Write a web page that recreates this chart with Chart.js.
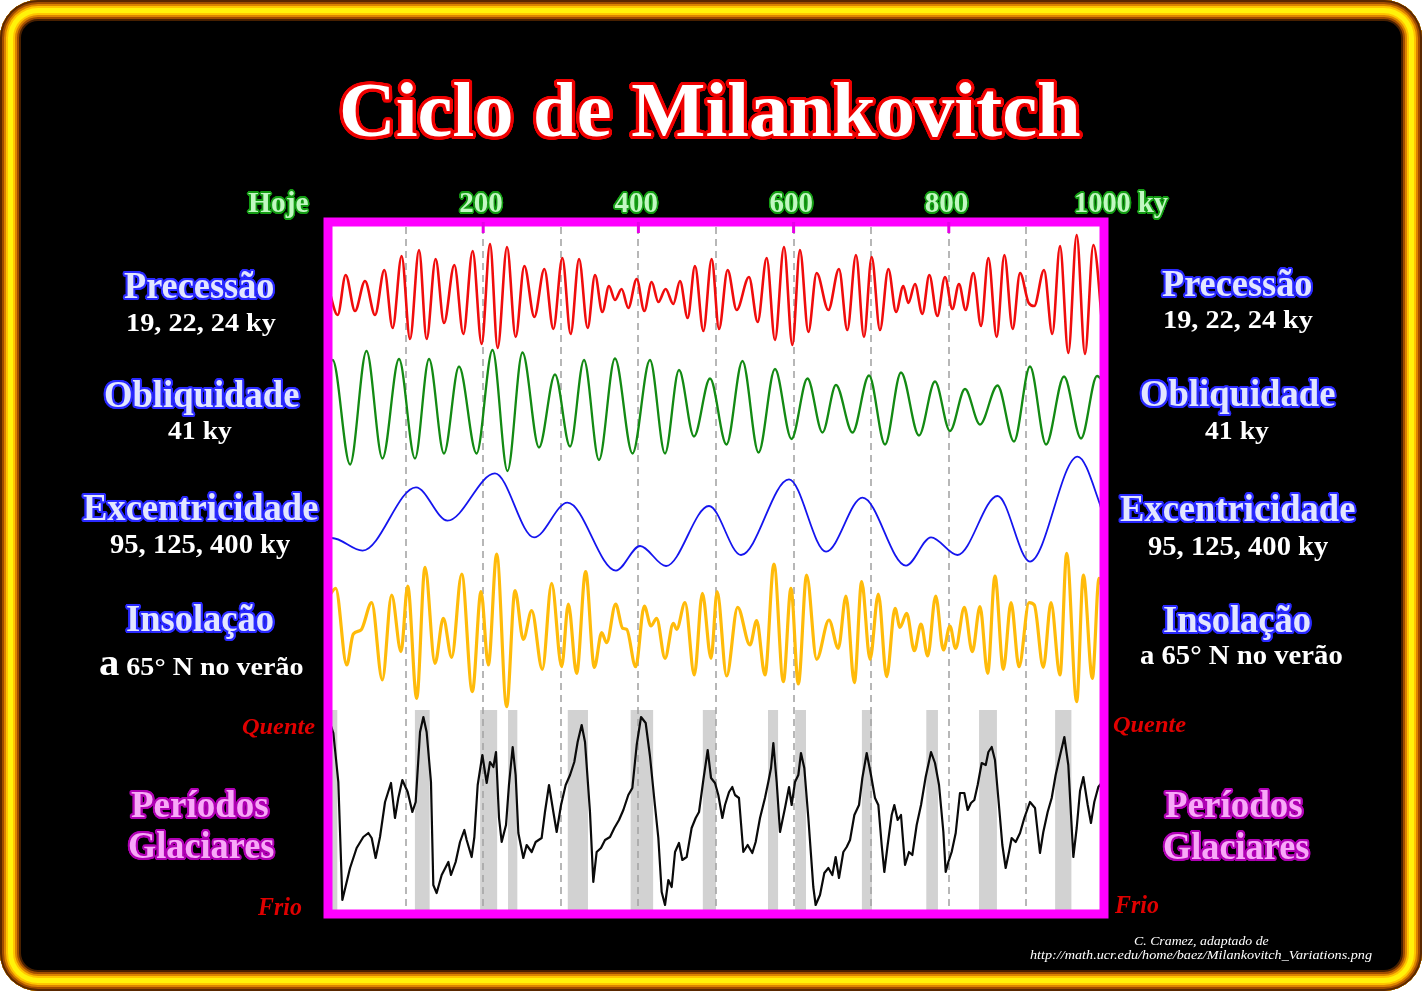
<!DOCTYPE html>
<html lang="pt">
<head>
<meta charset="utf-8">
<title>Ciclo de Milankovitch</title>
<script src="https://cdn.jsdelivr.net/npm/chart.js@4.4.1/dist/chart.umd.min.js"></script>
<style>
  html, body { margin: 0; padding: 0; background: #fff; }
  #frame {
    position: absolute; left: 0; top: 0; width: 1422px; height: 991px;
    border-radius: 38px; background: #000; overflow: hidden;
    box-shadow:
      inset 0 0 0 2px #5a2800,
      inset 0 0 0 4px #a04c00,
      inset 0 0 0 6px #dc8400,
      inset 0 0 0 8px #ffc400,
      inset 0 0 0 13px #fff20a,
      inset 0 0 0 15px #ffc400,
      inset 0 0 0 17px #dc8400,
      inset 0 0 0 19px #a04c00,
      inset 0 0 0 21px #482000;
  }
  #chart { position: absolute; left: 0; top: 0; }
  .lbl {
    position: absolute; white-space: nowrap; line-height: 1;
    font-family: "Liberation Serif", "Times New Roman", serif; font-weight: bold;
    transform-origin: 0 0;
  }
  .big { font-size: 1.45em; line-height: 0; }
</style>
</head>
<body>
<div id="frame">
  <canvas id="chart" width="1422" height="991"></canvas>
</div>
<script>
// ---- series (time in ky before present, value) ----
const precession = [
  [0,0.010],[12.5,-0.019],[22.8,0.021],[34.8,-0.015],[47.7,0.015],[60.6,-0.019],[72.6,0.026],[83.3,-0.032],
  [94.9,0.040],[105.7,-0.043],[117.3,0.046],[127.1,-0.043],[138.7,0.037],[149.5,-0.027],[162.8,0.031],[174.4,-0.038],
  [186.4,0.045],[198.0,-0.048],[208.8,0.052],[218.6,-0.052],[230.7,0.049],[241.8,-0.041],[253.0,0.030],[265.9,-0.021],
  [278.8,0.027],[290.4,-0.033],[302.0,0.038],[312.7,-0.038],[323.5,0.037],[334.6,-0.032],[344.1,0.021],[353.5,-0.016],
  [362.1,0.010],[369.8,-0.004],[378.4,0.007],[387.0,-0.012],[397.8,0.017],[407.6,-0.015],[417.1,0.014],[425.7,-0.006],
  [435.1,0.007],[445.0,-0.008],[453.6,0.015],[463.5,-0.022],[472.9,0.030],[483.7,-0.035],[494.4,0.037],[503.9,-0.033],
  [515.0,0.026],[526.6,-0.014],[542.5,0.019],[553.7,-0.026],[565.3,0.038],[576.0,-0.044],[587.6,0.049],[598.4,-0.049],
  [608.2,0.046],[619.0,-0.036],[629.7,0.023],[644.8,-0.014],[658.5,0.027],[669.2,-0.034],[680.4,0.041],[690.7,-0.041],
  [700.6,0.039],[711.3,-0.034],[722.1,0.027],[732.0,-0.016],[741.4,0.010],[747.9,-0.007],[756.4,0.012],[765.9,-0.018],
  [774.9,0.021],[785.2,-0.020],[795.1,0.019],[804.6,-0.013],[813.1,0.012],[821.7,-0.014],[831.6,0.023],[841.5,-0.030],
  [851.0,0.038],[861.7,-0.041],[871.6,0.041],[882.3,-0.033],[891.8,0.023],[903.0,-0.007],[910.0,-0.010],[922.7,0.026],
  [933.4,-0.038],[943.3,0.050],[954.0,-0.057],[964.8,0.061],[975.5,-0.058],[986.3,0.051],[1000,-0.050]
];

const obliquity = [
  [0,24.22],[6,24.30],[28.4,22.21],[49.6,24.48],[70.2,22.33],[91.5,24.32],[112.1,22.33],[130.2,24.32],
  [149.5,22.43],[168.8,24.17],[191.4,22.43],[212.0,24.50],[231.3,22.08],[250.6,24.45],[271.9,22.55],[292.5,24.01],
  [311.9,22.57],[329.9,24.30],[349.2,22.30],[369.8,24.33],[392.4,22.43],[414.9,24.30],[434.3,22.43],[452.3,24.10],
  [471.6,22.77],[492.3,23.93],[513.5,22.61],[534.1,24.28],[554.8,22.45],[576.0,24.12],[597.3,22.72],[617.9,23.93],
  [637.2,22.85],[654.6,23.80],[675.9,22.85],[697.2,23.99],[717.8,22.61],[738.4,24.05],[761.6,22.79],[782.2,23.87],
  [801.5,22.88],[820.9,23.72],[840.2,23.01],[862.8,23.79],[884.0,22.67],[904.6,24.17],[925.3,22.61],[948.5,23.97],
  [970.4,22.73],[991.0,23.98],[1000,23.85]
];

const eccentricity = [
  [0,0.0182],[5,0.0185],[44.5,0.0122],[113.4,0.0438],[154.0,0.0272],[215.2,0.0508],[265.5,0.0188],[308.6,0.0362],
  [371.1,0.0022],[402.1,0.0145],[435.6,0.0045],[491.0,0.0345],[532.2,0.0100],[594.1,0.0478],[641.8,0.0117],
  [688.8,0.0387],[744.8,0.0047],[777.1,0.0188],[811.2,0.0100],[862.8,0.0395],[904.6,0.0067],[965.9,0.0592],
  [993.6,0.0367],[1000,0.0280]
];

const insolation = [
  [0,512],[9.9,521.7],[24.1,445],[32.6,476],[42.5,480],[56.3,507.3],[70.0,430],[82.0,515],[94.1,458.3],[102.7,524],
  [114.3,411.7],[125.0,542.7],[137.9,446.7],[148.6,491.7],[159.4,452.7],[172.3,536],[186.0,418.3],[197.2,518.3],
  [206.6,445],[217.4,556],[230.2,403.3],[241.0,519.3],[251.7,470.7],[262.5,499.3],[276.2,440.7],[288.2,526.7],
  [301.1,443.3],[309.7,506],[320.4,436.7],[332.0,538.3],[343.2,442.7],[352.7,477.3],[359.1,467.3],[370.7,506],
  [379.7,481.7],[384.9,480.7],[396.5,443.3],[407.6,504],[416.2,484],[423.5,491.7],[434.3,451.7],[445.0,486.7],
  [449.3,480.7],[460.1,507.3],[472.1,435],[482.4,516.7],[493.6,451.7],[501.5,518.3],[513.7,434],[527.9,502.7],
  [543.8,465],[552.4,489.3],[563.1,435],[574.7,546],[586.8,428.3],[596.6,521.7],[606.1,426],[616.8,535],
  [629.7,450.7],[645.6,490],[657.6,461.7],[667.5,514],[678.3,427.3],[687.7,528.3],[698.5,450.7],[709.2,516],
  [719.9,433.3],[730.7,501.7],[737.1,482.7],[745.7,496.7],[755.6,459.3],[764.2,486],[772.8,454],[783.1,514],
  [793.0,460],[801.5,484],[808.8,461.7],[820.0,502.7],[830.3,458.3],[840.2,503.3],[850.1,436.7],[859.5,534],
  [870.3,440.7],[880.2,507.3],[890.5,443.3],[903.4,507.3],[910.2,505],[921.8,442.7],[931.7,507.3],[943.3,435],
  [951.9,556.7],[964.8,408.3],[973.4,535],[985.0,431.7],[993.6,531.7],[1000,515]
];

// benthic delta-18O (per mil); plotted with warm (low values) at the top
const iceVolume = [
  [0,3.25],[6.9,3.41],[13.3,3.90],[18.5,5.08],[28.4,4.76],[36.9,4.56],[45.5,4.45],[52.0,4.41],[56.3,4.46],
  [61.4,4.66],[67.0,4.45],[73.5,4.10],[81.2,3.91],[86.3,4.26],[90.6,4.06],[95.8,3.88],[102.7,4.00],[108.7,4.20],
  [113.0,4.10],[118.6,3.40],[122.9,3.25],[127.1,3.40],[132.7,3.90],[135.7,4.93],[140.0,5.01],[146.5,4.83],
  [155.1,4.70],[158.5,4.83],[164.5,4.70],[170.1,4.50],[175.7,4.38],[178.7,4.48],[185.1,4.65],[188.6,4.45],
  [192.9,3.93],[198.9,3.63],[204.5,3.91],[208.8,3.70],[213.1,3.75],[216.5,3.60],[220.4,4.26],[223.8,4.50],
  [229.4,4.33],[233.2,3.93],[238.0,3.55],[241.8,3.83],[245.3,4.41],[251.7,4.66],[256.0,4.53],[262.5,4.60],
  [267.6,4.50],[275.3,4.46],[279.6,4.20],[284.8,3.93],[290.4,4.20],[294.7,4.40],[300.3,4.13],[306.3,3.93],
  [311.9,3.83],[317.4,3.70],[321.7,3.50],[326.9,3.33],[331.2,3.50],[337.6,4.20],[341.9,4.90],[346.2,4.60],
  [351.8,4.56],[357.0,4.48],[363.4,4.45],[369.0,4.36],[375.0,4.28],[380.6,4.18],[387.0,4.03],[392.2,3.96],
  [397.8,3.53],[403.4,3.25],[409.4,3.31],[414.9,3.64],[421.4,4.14],[425.7,4.46],[430.0,5.00],[434.3,5.13],
  [438.6,4.88],[442.9,4.95],[447.2,4.60],[452.3,4.51],[456.6,4.68],[462.2,4.65],[468.6,4.36],[473.8,4.26],
  [478.1,4.20],[483.7,3.88],[489.3,3.58],[493.6,3.86],[498.7,3.91],[503.0,4.03],[508.2,4.26],[511.6,4.13],
  [516.8,4.00],[521.0,3.95],[524.5,4.03],[529.6,4.06],[535.2,4.60],[540.8,4.53],[546.8,4.61],[551.1,4.50],
  [556.7,4.26],[563.1,4.06],[567.4,3.90],[570.9,3.76],[573.9,3.51],[578.2,3.90],[582.5,4.40],[588.9,4.16],
  [594.1,3.95],[597.5,4.13],[601.8,3.90],[606.1,3.83],[609.5,3.61],[613.8,3.76],[619.0,4.26],[625.4,4.95],
  [628.4,5.13],[634.0,5.03],[639.6,4.81],[644.8,4.76],[649.9,4.83],[654.2,4.65],[658.5,4.86],[664.1,4.60],
  [668.4,4.55],[672.7,4.48],[678.3,4.23],[684.3,4.13],[688.6,3.86],[694.2,3.61],[699.7,3.83],[704.9,4.06],
  [709.2,4.13],[713.5,4.53],[716.9,4.80],[721.2,4.53],[726.4,4.23],[729.8,4.13],[734.1,4.28],[738.4,4.23],
  [743.6,4.73],[748.7,4.60],[753.0,4.63],[758.6,4.33],[764.2,4.13],[770.2,3.85],[777.1,3.60],[782.2,3.71],
  [787.4,3.93],[793.0,4.40],[796.0,4.80],[799.4,4.70],[803.7,4.60],[808.9,4.41],[814.4,4.01],[820.0,4.01],
  [824.3,4.18],[828.6,4.11],[832.9,4.08],[837.2,3.93],[842.4,3.71],[847.6,3.73],[851.0,3.60],[855.3,3.55],
  [859.5,3.68],[863.8,4.06],[869.0,4.53],[873.3,4.76],[877.6,4.60],[881.0,4.46],[886.2,4.50],[891.8,4.41],
  [897.3,4.26],[904.6,4.10],[911.1,4.16],[917.5,4.61],[921.8,4.40],[927.4,4.20],[932.6,4.06],[937.7,3.83],
  [942.0,3.68],[948.9,3.45],[954.0,3.73],[957.5,4.23],[960.5,4.65],[964.8,4.36],[969.1,3.99],[973.4,3.85],
  [979.0,4.13],[983.2,4.31],[987.5,4.10],[992.7,3.95],[1000,3.88]
];

// interglacial intervals (ky), shaded grey
const interglacials = [
  [0,12],[112,131],[196,218],[232,244],[309,335],[390,419],[483,500],
  [567,580],[602,616],[688,701],[771,786],[839,862],[937,958]
];

// top axis labels
const topTicks = [0, 200, 400, 600, 800, 1000];
const topTickLabels = ['Hoje', '200', '400', '600', '800', '1000 ky'];
const guideTicks = [100, 200, 300, 400, 500, 600, 700, 800, 900];
const markTicks = [200, 400, 600, 800];

const toXY = arr => arr.map(([x, y]) => ({ x, y }));

// background, shading, guides and magenta frame
const panelsPlugin = {
  id: 'panels',
  beforeDatasetsDraw(chart, args, opts) {
    const { ctx, chartArea: a, scales } = chart;
    const xs = scales.x;
    ctx.save();
    ctx.fillStyle = '#ffffff';
    ctx.fillRect(a.left, a.top, a.right - a.left, a.bottom - a.top);

    const yTop = scales.yG.getPixelForValue(opts.bandTop);
    ctx.fillStyle = '#d2d2d2';
    interglacials.forEach(([s, e]) => {
      const x0 = xs.getPixelForValue(s), x1 = xs.getPixelForValue(e);
      ctx.fillRect(x0, yTop, x1 - x0, a.bottom - yTop);
    });

    ctx.strokeStyle = '#a6a6a6';
    ctx.lineWidth = 1.6;
    ctx.setLineDash([7, 5]);
    guideTicks.forEach(v => {
      const px = Math.round(xs.getPixelForValue(v));
      ctx.beginPath();
      ctx.moveTo(px, a.top + 5);
      ctx.lineTo(px, a.bottom);
      ctx.stroke();
    });
    ctx.restore();
  },
  afterDraw(chart) {
    const { ctx, chartArea: a, scales } = chart;
    ctx.save();
    ctx.strokeStyle = '#ff00ff';
    ctx.lineWidth = 9;
    ctx.strokeRect(a.left, a.top, a.right - a.left, a.bottom - a.top);
    ctx.fillStyle = '#e600e6';
    markTicks.forEach(v => {
      const px = scales.x.getPixelForValue(v);
      ctx.fillRect(px - 1.5, a.top, 3, 11);
    });
    ctx.restore();
  }
};

const line = (data, color, width, axis, smooth) => ({
  data: toXY(data), yAxisID: axis, xAxisID: 'x',
  borderColor: color, borderWidth: width, pointRadius: 0,
  cubicInterpolationMode: smooth ? 'monotone' : 'default', tension: 0,
  borderJoinStyle: 'round', borderCapStyle: 'round'
});

const hidden = (min, max, extra) => Object.assign({ type: 'linear', axis: 'y', position: 'left', display: false, min, max }, extra || {});

const chart = new Chart(document.getElementById('chart'), {
  type: 'line',
  data: {
    datasets: [
      line(precession, '#f00c0c', 2.6, 'yP', true),
      line(obliquity, '#138a13', 2.3, 'yO', true),
      line(eccentricity, '#1515ee', 1.8, 'yE', true),
      line(insolation, '#ffbb0a', 3.2, 'yI', true),
      line(iceVolume, '#0a0a0a', 2.2, 'yG', false)
    ]
  },
  options: {
    responsive: false,
    devicePixelRatio: 1,
    animation: false,
    events: [],
    layout: { padding: { left: 328, top: 222, right: 318, bottom: 77 } },
    plugins: { legend: { display: false }, tooltip: { enabled: false }, panels: { bandTop: 3.18 } },
    scales: {
      x: { type: 'linear', display: false, min: 0, max: 1000 },
      yP: hidden(-0.618, 0.074),
      yO: hidden(13.22, 27.06),
      yE: hidden(-0.1695, 0.1765),
      yI: hidden(196, 888),
      yG: hidden(-1.7, 5.22, { reverse: true })
    }
  },
  plugins: [panelsPlugin]
});

// ---- text ----
function ring(color, r, n) {
  const out = [];
  for (let i = 0; i < n; i++) {
    const t = 2 * Math.PI * i / n;
    out.push(`${(r * Math.cos(t)).toFixed(2)}px ${(r * Math.sin(t)).toFixed(2)}px 0 ${color}`);
  }
  return out.join(',');
}

const styles = {
  title: { color: '#ffffff', textShadow: ring('#ee0000', 3.2, 28) + ',0 0 2px #a00000' },
  blue:  { color: '#e2e6ff', textShadow: ring('#2a2aff', 2.0, 20) + ',0 0 3px #1010a0' },
  pink:  { color: '#f8a8f8', textShadow: ring('#b000b4', 2.0, 20) + ',0 0 3px #600060' },
  green: { color: '#c2f8c2', textShadow: ring('#149c14', 1.6, 20) },
  white: { color: '#ffffff' },
  red:   { color: '#e00000', fontStyle: 'italic' },
  note:  { color: '#ffffff', fontStyle: 'italic', fontWeight: 'normal' }
};

const frame = document.getElementById('frame');
function label(html, x, base, size, width, align, style) {
  const el = document.createElement('div');
  el.className = 'lbl';
  el.innerHTML = html;
  el.style.fontSize = size + 'px';
  Object.assign(el.style, styles[style]);
  frame.appendChild(el);
  const natural = el.offsetWidth;
  let s = width ? width / natural : 1;
  s = Math.max(0.88, Math.min(1.12, s));
  const w = natural * s;
  const left = align === 'c' ? x - w / 2 : align === 'r' ? x - w : x;
  el.style.left = left + 'px';
  el.style.top = (base - 0.8375 * size) + 'px';
  el.style.transform = `scaleX(${s})`;
}

label('Ciclo de Milankovitch', 710, 136, 78, 742, 'c', 'title');

// side captions: [text, left centre, right centre, left baseline, right baseline, size, width, style]
const captions = [
  ['Precessão', 199, 1237, 298, 296, 37, 150, 'blue'],
  ['19, 22, 24 ky', 201, 1238, 332, 329, 26, 150, 'white'],
  ['Obliquidade', 201, 1237, 407, 406, 37, 195, 'blue'],
  ['41 ky', 200, 1237, 440, 440, 26, 64, 'white'],
  ['Excentricidade', 200, 1237, 520, 521, 37, 235, 'blue'],
  ['95, 125, 400 ky', 200, 1238, 554, 556, 27, 180, 'white'],
  ['Insolação', 200, 1237, 631, 632, 37, 148, 'blue'],
  ['Períodos', 200, 1234, 817, 817, 37, 138, 'pink'],
  ['Glaciares', 201, 1236, 858, 859, 37, 146, 'pink']
];
captions.forEach(([t, xl, xr, bl, br, size, w, st]) => {
  label(t, xl, bl, size, w, 'c', st);
  label(t, xr, br, size, w, 'c', st);
});
label('<span class="big">a</span> 65° N no verão', 201, 676, 26, 205, 'c', 'white');
label('a 65° N no verão', 1241, 665, 27, 203, 'c', 'white');
label('Quente', 315, 734, 24, 73, 'r', 'red');
label('Frio', 302, 915, 25, 44, 'r', 'red');
label('Quente', 1113, 732, 24, 73, 'l', 'red');
label('Frio', 1115, 913, 25, 44, 'l', 'red');
label('C. Cramez, adaptado de', 1201, 945, 13, 135, 'c', 'note');
label('http://math.ucr.edu/home/baez/Milankovitch_Variations.png', 1201, 959, 13, 342, 'c', 'note');

// time labels above the plot, placed from the x scale
const xs = chart.scales.x;
topTicks.forEach((v, i) => {
  const px = xs.getPixelForValue(v);
  if (v === 0) label(topTickLabels[i], px - 19, 212, 29, 61, 'r', 'green');
  else if (v === 1000) label(topTickLabels[i], px - 30, 212, 29, 94, 'l', 'green');
  else label(topTickLabels[i], px - 2, 212, 29, 44, 'c', 'green');
});
</script>
</body>
</html>
